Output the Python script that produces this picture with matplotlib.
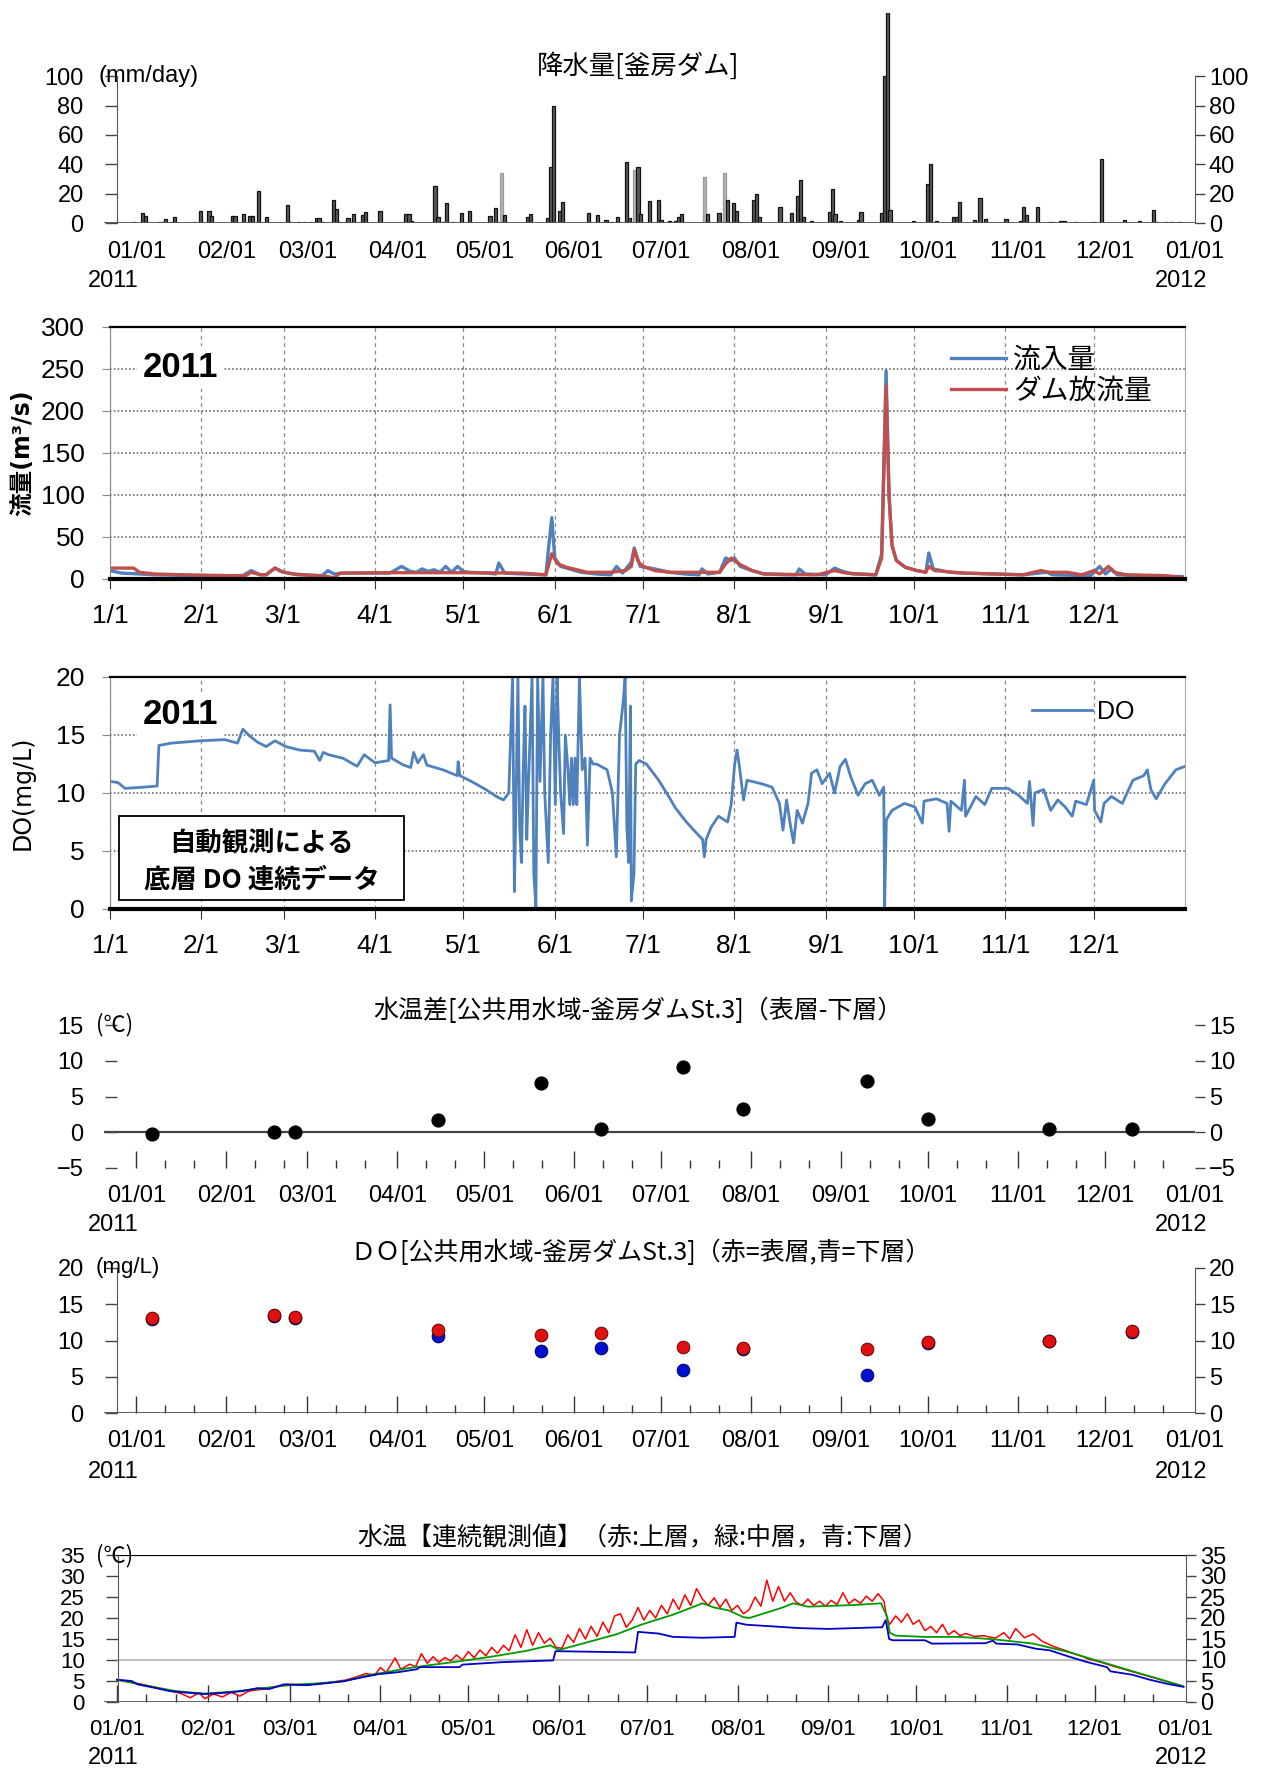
import numpy as np
import pandas as pd
import matplotlib
matplotlib.use('Agg')
import matplotlib.pyplot as plt
import matplotlib.dates as mdates
from matplotlib.ticker import FuncFormatter, FixedLocator
from matplotlib.patches import Rectangle

plt.rcParams['font.family'] = ['Liberation Sans', 'Noto Sans CJK JP']
JP = ['Noto Sans CJK JP', 'DejaVu Sans']
NARROW = ['Liberation Sans Narrow', 'Liberation Sans']

W, H = 1262, 1772
BASE = pd.Timestamp('2011-01-01')

# --- rainfall (day offset from 2011-01-01, mm/day, gray = missing/estimated)
rain_day = [-1, 2, 3, 8, 9, 10, 12, 13, 20, 22, 25, 26, 33, 34, 37, 39, 40, 42, 45,
            52, 53, 56, 58, 60, 62, 63, 64, 68, 69, 70, 72, 73, 75, 78, 79, 84,
            93, 94, 95, 103, 104, 106, 107, 109, 112, 115, 122, 124, 126, 127,
            135, 136, 142, 143, 144, 146, 147, 156, 159, 162, 164, 166, 169, 170,
            172, 173, 174, 177, 180, 181, 184, 186, 187, 188, 196, 197, 201, 203,
            204, 206, 207, 208, 213, 214, 215, 222, 224, 226, 228, 229, 230, 233,
            239, 240, 241, 243, 249, 250, 257, 258, 259, 260, 268, 273, 274, 276,
            282, 283, 284, 289, 291, 293, 300, 305, 306, 307, 311, 315, 316, 319,
            320, 324, 330, 333, 341, 346, 351, 352, 355, 357, 360]
rain_mm = [1, 7, 4.5, 0.7, 1, 3, 1, 4, 0.7, 8, 8, 5, 4.5, 4.5, 6, 4.5, 4.5, 22, 4,
           12, 1, 0.7, 0.7, 1, 3.5, 3.5, 0.7, 16, 9.5, 1, 1, 3.5, 6, 5.5, 7.5, 8,
           6, 6, 1.5, 25, 4, 1, 13.5, 1, 7, 8, 4.5, 10, 34, 5.5,
           4, 6, 3.5, 38, 80, 8, 14, 7, 5.5, 2, 1, 4, 41.5, 3.5,
           36, 38, 6, 15, 16, 2, 1.5, 1.5, 4, 6, 31, 6, 7, 34,
           16, 13.5, 8, 1, 16, 20, 4, 11, 1, 7, 18.5, 29, 4, 1.5,
           7.5, 23, 6, 1.5, 2, 7.5, 7, 100, 145, 9, 1.5, 26.5, 40.5, 1.5,
           4, 4, 14, 2, 16.8, 3, 3, 1.5, 11, 5.5, 11, 1, 1, 1.5,
           1.5, 1, 1, 43.5, 2, 1.5, 9, 1, 1, 1, 1]
rain_gray_days = [126, 172, 196, 203]

# --- dam inflow / outflow (m3/s)
in_day = [0, 4, 10, 15, 31, 45, 48, 51, 53, 56, 59, 64, 72, 74, 76, 80, 95, 99, 102,
          104, 106, 108, 110, 112, 114, 116, 118, 120, 122, 128, 131, 132, 134, 140,
          148, 149, 150, 151, 153, 160, 165, 170, 172, 174, 177, 178, 179, 180, 185,
          190, 195, 200, 201, 203, 207, 209, 211, 212, 214, 218, 222, 230, 233, 234,
          236, 243, 246, 248, 252, 260, 262, 263.5, 264.5, 265.5, 267, 270, 274, 277,
          278, 279.5, 285, 290, 300, 310, 318, 320, 333, 336, 338, 340, 342, 350,
          358, 364]
in_q = [10, 7, 6, 5, 4, 4, 10, 5, 5, 13, 8, 5, 4, 10, 6, 7, 7, 15, 9,
        8, 12, 9, 11, 8, 15, 8, 15, 9, 8, 7, 6, 19, 7, 6,
        5, 40, 73, 25, 15, 8, 6, 5, 15, 7, 20, 37, 25, 15, 12,
        8, 6, 5, 12, 6, 8, 25, 22, 25, 15, 10, 6, 5, 5, 12,
        6, 5, 13, 10, 6, 5, 30, 248, 100, 40, 22, 14, 10, 8,
        31, 12, 8, 7, 6, 5, 8, 5, 4, 15, 6, 12, 5, 4,
        3, 3]
out_day = [0, 8, 10, 15, 25, 40, 46, 48, 51, 53, 56, 58, 62, 70, 74, 76, 78, 90, 120,
           140, 148, 150, 152, 155, 162, 170, 175, 177, 178, 179.5, 181, 185, 190,
           207, 209, 211, 214, 218, 222, 240, 246, 250, 260, 262, 263.5, 264.5, 265.5,
           267, 270, 274, 277, 278, 280, 290, 310, 316, 319, 325, 330, 334, 336, 339,
           341, 345, 358, 364]
out_q = [13, 13, 8, 6, 5, 4, 4, 8, 5, 5, 13, 9, 6, 4, 3, 1, 7, 7.5, 7.5,
         7, 5, 30, 18, 14, 8, 8, 10, 15, 35, 20, 15, 10, 8,
         8, 18, 25, 17, 10, 6, 5, 10, 7, 5, 25, 230, 100, 40,
         22, 14, 10, 8, 15, 10, 7, 5, 10, 8, 8, 5, 10, 6, 15,
         8, 5, 4, 2]

# --- continuous bottom DO (mg/L)
do_day = [0, 2.7, 5.1, 11.2, 16, 16.6, 20.9, 30.6, 39, 43.3, 45.1, 47.5, 50, 53, 56,
          59.7, 64.5, 69.4, 71.2, 72.4, 74.2, 79.1, 83.9, 86.3, 90, 94.6, 95.1, 95.6,
          99.7, 102.1, 103.1, 104.5, 106.4, 107.6, 113, 117.9, 118.2, 118.8, 122.7,
          127.6, 131.2, 133.6, 135.4,
          136.7, 137.3, 137.9, 138.5, 139.1, 139.7, 140.3, 140.9, 141.5, 142.1, 143.3,
          143.9, 144.6, 145.2, 146, 147, 147.6, 148.8, 149.6, 150.4, 151.2, 151.8,
          152.4, 153, 154, 154.6, 155.5, 156.1, 156.7, 157.3, 157.9, 158.5, 159.4,
          160.3, 161.3, 162.1, 163, 164, 165.2, 168.8, 170.6, 171.2, 171.9, 173,
          174.3, 174.9, 175.5, 176.1, 176.7, 177, 177.9, 178.5, 179.7, 182.1,
          186.3, 189.7, 192, 195.7, 199.3, 201.2, 201.8, 202.4, 204.2, 206.6, 209.7,
          210.9, 212.1, 212.9, 213.7, 215.1, 216.3, 221.2, 224.8, 227.3, 228.5, 229.7,
          230.9, 232.1, 233.3, 235.1, 237, 238.2, 240, 241.8, 244.3, 246, 247.9,
          249.7, 251.5, 254, 256.4, 258.8, 261.2, 262.7, 263, 263.6, 265.5, 269.7,
          273.3, 275.8, 276.4, 280.6, 284.2, 284.9, 285.5, 289.1, 290.1, 290.5, 294,
          297, 299.4, 304.9, 308.5, 311.5, 312.2, 313.4, 314, 317, 319.4, 321.8,
          324.3, 326.7, 327.9, 331.5, 334, 334.3, 336.4, 337.5, 340, 343.7, 347.3,
          351, 352.2, 353.4, 355.2, 358.2, 361.9, 365]
do_val = [11.0, 10.9, 10.4, 10.5, 10.6, 14.1, 14.3, 14.5, 14.6, 14.3, 15.5, 14.9, 14.4, 14.0, 14.5,
          14.0, 13.7, 13.6, 12.8, 13.5, 13.3, 13.0, 12.3, 13.3, 12.6, 12.8, 17.6, 13.0,
          12.4, 12.2, 13.5, 12.6, 13.3, 12.4, 12.0, 11.5, 12.7, 11.5, 11.0,
          10.3, 9.7, 9.4, 10.0,
          20, 1.5, 10, 20, 7, 4, 12, 17.5, 6, 11, 20,
          3, 0.2, 20, 11, 20, 10, 4, 15, 20, 9, 20,
          14.5, 10, 6.5, 15, 12, 9, 13, 9, 13, 9, 20,
          12, 13, 5.5, 13, 12.5, 12.5, 12, 10, 7.5, 4.5, 15,
          18, 20, 7, 4, 17.5, 0.7, 3, 12.5, 12.8, 12.5,
          11.1, 9.7, 8.7, 7.5, 6.5, 6.0, 4.5, 6.0, 7.1, 8.0, 7.5,
          9.0, 12.5, 13.7, 12.3, 9.4, 11.1, 10.8, 10.5, 9.1, 6.8, 9.4,
          7.4, 5.7, 8.5, 7.4, 9.1, 11.7, 12.0, 10.8, 11.7, 10.0, 12.3,
          12.9, 11.4, 9.8, 10.8, 11.1, 9.8, 10.5, 0.2, 7.7, 8.5, 9.1,
          8.8, 7.4, 9.3, 9.5, 9.1, 6.7, 9.3, 8.5, 11.1, 8.0, 9.7,
          9.0, 10.4, 10.4, 9.8, 9.1, 11.0, 7.2, 10.0, 10.3, 8.5, 9.4,
          8.8, 8.0, 9.3, 9.0, 11.1, 8.5, 7.5, 9.1, 9.7, 9.1, 11.1,
          11.5, 12.0, 10.3, 9.5, 10.8, 12.0, 12.3]

# --- public-water survey at St.3
survey_day = [5.5, 47.6, 54.7, 104, 139.5, 160.4, 188.5, 209.4, 252, 273, 315, 343.3]
temp_diff = [-0.2, 0.0, 0.0, 1.7, 6.9, 0.4, 9.1, 3.2, 7.2, 1.8, 0.5, 0.5]
do_surface = [13.1, 13.5, 13.2, 11.5, 10.8, 11.0, 9.1, 8.9, 8.8, 9.8, 10.0, 11.3]
do_bottom = [12.9, 13.4, 13.1, 10.6, 8.6, 9.0, 6.0, 8.8, 5.2, 9.6, 9.9, 11.2]

# --- continuous water temperature (deg C)
wt_up_day = [0, 8, 15, 22, 25, 28, 30, 33, 36, 39, 42, 45, 48, 52, 58, 65, 72, 78, 82, 85,
             88, 90, 92, 95, 97, 100, 102, 104, 106, 108, 110, 112, 114, 116, 118, 120,
             122, 124, 126, 128, 130, 132, 134, 136, 138, 140, 142, 144, 146, 148, 150,
             152, 154, 156, 158, 160, 162, 164, 166, 168, 170, 172, 174, 176, 178, 180,
             182, 184, 186, 188, 190, 192, 194, 196, 198, 200, 202, 204, 206, 208, 210,
             212, 214, 216, 218, 220, 222, 224, 226, 228, 230, 232, 234, 236, 238, 240,
             242, 244, 246, 248, 250, 252, 254, 256, 258, 260, 262, 263, 264, 266, 268,
             270, 272, 274, 276, 278, 280, 282, 284, 286, 288, 290, 293, 296, 300, 303,
             305, 307, 310, 313, 316, 320, 325, 330, 332, 336, 340, 345, 350, 355, 360, 364]
wt_up = [5.3, 4.3, 3.2, 2.0, 1.0, 2.2, 0.8, 1.9, 1.2, 2.3, 1.4, 2.6, 2.9, 3.2, 4.2, 4.1, 4.6, 5.2, 6.0, 6.8,
         6.4, 8.2, 7.0, 10.5, 7.8, 9.0, 8.4, 11.5, 9.2, 10.8, 9.4, 10.6, 9.8, 11.2, 10.0, 12.0,
         10.5, 12.4, 11.0, 13.0, 11.6, 13.5, 12.2, 16.0, 13.0, 17.2, 13.5, 16.5, 14.0, 15.2, 13.0,
         12.8, 16.0, 14.2, 17.5, 15.0, 18.0, 15.6, 19.0, 16.5, 20.5, 21.0, 17.8, 19.5, 22.5, 19.5,
         21.8, 20.0, 23.0, 21.0, 24.5, 22.0, 25.5, 23.0, 27.0, 24.5, 23.0, 24.8, 22.5, 24.5, 21.8,
         23.0, 21.0, 22.0, 25.0, 22.8, 29.0, 24.0, 27.5, 24.0, 26.0, 23.8, 23.0, 24.5, 23.0, 24.0,
         22.8, 24.2, 23.2, 26.0, 23.4, 24.5, 23.5, 25.2, 24.0, 25.8, 24.0, 20.0, 18.5, 20.5, 19.0,
         21.0, 18.5, 19.5, 17.0, 18.0, 16.5, 18.5, 16.0, 17.0, 15.8, 16.3, 15.6, 15.8, 15.2, 16.5,
         15.0, 17.5, 15.3, 16.2, 14.5, 13.2, 12.0, 10.8, 10.2, 9.5, 8.6, 7.6, 6.6, 5.6, 4.6, 3.8]
wt_mid_day = [0, 10, 20, 30, 40, 50, 60, 70, 78, 85, 92, 99, 106, 116, 128, 140, 148, 151,
              159, 171, 179, 190, 200, 204, 209, 214, 216, 227, 231, 236, 252, 261, 263,
              264, 266, 276, 288, 300, 313, 325, 337, 349, 355, 364]
wt_mid = [5.3, 3.9, 2.6, 2.0, 2.5, 3.3, 4.1, 4.5, 5.0, 6.3, 7.1, 8.0, 8.7, 9.6, 10.8, 12.2, 13.5, 12.4,
          13.9, 16.2, 18.4, 20.8, 23.5, 22.5, 21.8, 20.2, 20.0, 22.4, 23.5, 22.7, 23.1, 23.5, 20.5,
          16.5, 15.8, 15.5, 15.5, 14.9, 13.9, 11.9, 9.4, 6.9, 5.7, 3.8]
wt_low_day = [0, 5, 7, 12, 18, 24, 30, 37, 43, 48, 52, 57, 65, 72, 77, 84, 89, 96, 102.5,
              103.5, 117, 118, 132, 149, 149.8, 177, 178, 185, 190, 200, 211, 211.6, 215,
              233, 243, 261.4, 262.6, 263.8, 265, 276, 278.4, 296.7, 299.2, 300.4, 307.7,
              313.8, 318.7, 324.8, 330.9, 338.2, 339.4, 346.8, 352.8, 359, 364.4]
wt_low = [5.3, 5.0, 4.2, 3.5, 2.6, 2.2, 1.9, 2.2, 2.6, 3.3, 3.1, 4.2, 4.0, 4.5, 4.9, 5.9, 6.6, 7.1, 7.8,
          8.3, 8.3, 8.9, 9.5, 9.9, 12.1, 11.8, 16.7, 16.3, 15.5, 15.3, 15.5, 18.9, 18.4,
          17.6, 17.4, 17.8, 19.5, 15.0, 14.7, 14.7, 13.9, 14.0, 14.6, 13.9, 13.7,
          12.7, 12.3, 10.9, 9.6, 8.3, 7.3, 6.5, 5.3, 4.3, 3.6]


def days(d):
    return BASE + pd.to_timedelta(np.asarray(d, dtype=float), unit='D')


def px_ax(l, t, r, b):
    return fig.add_axes([l / W, 1 - b / H, (r - l) / W, (b - t) / H])


def ftext(x, y, s, **kw):
    return fig.text(x / W, 1 - y / H, s, **kw)


def year_labels(y):
    ftext(113, y, '2011', ha='center', va='center', fontsize=17)
    ftext(1181, y, '2012', ha='center', va='center', fontsize=17)


# minor ticks on the 11th and 21st of each month of 2011 only
minor_dates = pd.date_range('2011-01-01', '2011-12-31', freq='D')
minor_dates = minor_dates[np.isin(minor_dates.day, [11, 21])]
month_dates = pd.date_range('2011-01-01', '2012-01-01', freq='MS')


def survey_style(ax, ymin, ymax, ystep, lpx, rpx, spine_px, show_spines, left_ext=11.2):
    # R-style panels: mm/dd labels, spine offset, right-hand copy of the scale
    ax.set_xlim(BASE - pd.Timedelta(days=left_ext), BASE + pd.Timedelta(days=365.2))
    ax.set_ylim(ymin, ymax)
    ticks = np.arange(ymin, ymax + 0.1, ystep)
    ax.set_yticks(ticks)
    ax.spines['top'].set_visible(False)
    ax.spines['bottom'].set_visible(False)
    ax.spines['left'].set_position(('axes', (spine_px - lpx) / (rpx - lpx)))
    ax.spines['left'].set_bounds(ymin, ymax)
    ax.spines['left'].set_color('#555555')
    ax.spines['left'].set_visible(show_spines)
    ax.spines['right'].set_visible(False)
    ax.tick_params(axis='y', direction='out', length=9, width=1, color='#444444',
                   labelsize=17, pad=15)
    sec = ax.secondary_yaxis('right')
    sec.set_yticks(ticks)
    sec.tick_params(axis='y', direction='out', length=7, width=1, color='#444444',
                    labelsize=17, pad=3)
    sec.spines['right'].set_bounds(ymin, ymax)
    sec.spines['right'].set_color('#555555')
    sec.spines['right'].set_visible(show_spines)
    ax.xaxis.set_major_locator(FixedLocator(mdates.date2num(month_dates)))
    ax.xaxis.set_minor_locator(FixedLocator(mdates.date2num(minor_dates)))
    ax.xaxis.set_major_formatter(mdates.DateFormatter('%m/%d'))
    ax.tick_params(axis='x', which='major', direction='in', length=12, width=1,
                   color='#333333', labelsize=17, pad=12)
    ax.tick_params(axis='x', which='minor', direction='in', length=6, width=1,
                   color='#333333')
    # no tick mark under the closing 01/01 label
    ax.xaxis.get_major_ticks()[-1].tick1line.set_visible(False)
    return sec


def excel_style(ax, ymax, ystep):
    ax.set_xlim(BASE, BASE + pd.Timedelta(days=364.99))
    ax.set_ylim(0, ymax)
    ax.set_yticks(np.arange(0, ymax + 0.1, ystep))
    ax.xaxis.set_major_locator(mdates.MonthLocator())
    ax.xaxis.set_major_formatter(FuncFormatter(lambda v, p: f'{mdates.num2date(v).month}/1'))
    ax.grid(axis='x', color='#888888', linestyle=(0, (3, 3)), linewidth=0.9)
    ax.grid(axis='y', color='#555555', linestyle=(0, (1, 1.5)), linewidth=1.1)
    ax.spines['top'].set_color('black')
    ax.spines['top'].set_linewidth(1.6)
    ax.spines['bottom'].set_color('black')
    ax.spines['bottom'].set_linewidth(3)
    ax.spines['left'].set_color('#888888')
    ax.spines['right'].set_color('#aaaaaa')
    ax.tick_params(axis='y', length=6, color='#888888', labelsize=19, pad=12)
    ax.tick_params(axis='x', length=7, color='#333333', labelsize=19, pad=11)
    for lab in ax.get_xticklabels() + ax.get_yticklabels():
        lab.set_family(NARROW)
    ax.text(0.03, 0.84, '2011', transform=ax.transAxes, fontsize=25, fontweight='bold',
            va='center', ha='left',
            bbox=dict(boxstyle='square,pad=0.15', fc='white', ec='none'))


fig = plt.figure(figsize=(W / 100, H / 100), dpi=100)

# ---------------- panel 1: rainfall
ax1 = px_ax(104, 13, 1195, 223)
is_gray = np.isin(rain_day, rain_gray_days)
ax1.bar(days(rain_day), rain_mm, width=1.1, align='center',
        color=np.where(is_gray, '#b5b5b5', '#5a5a5a'),
        edgecolor=np.where(is_gray, '#9a9a9a', '#111111'), linewidth=0.9)
survey_style(ax1, 0, 100, 20, 104, 1195, 117, True)
ax1.set_ylim(0, 143)
ax1.axhline(0, color='#555555', linewidth=1.3)
ax1.tick_params(axis='x', which='both', length=0, pad=13)
ftext(638, 66, '降水量[釜房ダム]', ha='center', va='center', fontsize=19, family=JP)
ftext(98, 76, '(mm/day)', ha='left', va='center', fontsize=17)
year_labels(281)

# ---------------- panel 2: inflow / outflow
ax2 = px_ax(110, 327, 1185, 579)
ax2.plot(days(in_day), in_q, color='#4f81bd', linewidth=2.4, label='流入量')
ax2.plot(days(out_day), out_q, color='#c0504d', linewidth=2.4, label='ダム放流量')
excel_style(ax2, 300, 50)
ax2.set_ylabel('流量(m³/s)', fontsize=17, family=['DejaVu Sans', 'Noto Sans CJK JP'],
               fontweight='bold')
ax2.yaxis.set_label_coords(-0.07, 0.5)
ax2.legend(loc='upper left', bbox_to_anchor=(0.782, 0.93), frameon=False,
           prop={'family': JP, 'size': 20}, handlelength=2.0,
           handletextpad=0.25, labelspacing=0.05, borderaxespad=0, borderpad=0)

# ---------------- panel 3: continuous DO
ax3 = px_ax(110, 677, 1185, 909)
ax3.plot(days(do_day), do_val, color='#4f81bd', linewidth=2.0, label='DO')
excel_style(ax3, 20, 5)
ax3.set_ylabel('DO(mg/L)', fontsize=17, family='DejaVu Sans')
ax3.yaxis.set_label_coords(-0.07, 0.5)
ax3.legend(loc='upper left', bbox_to_anchor=(0.858, 0.9), frameon=False,
           prop={'family': ['Liberation Sans'], 'size': 18}, handlelength=2.4,
           handletextpad=0.2, borderaxespad=0, borderpad=0)
ax3.add_patch(Rectangle((0.0084, 0.039), 0.265, 0.362, transform=ax3.transAxes,
                        facecolor='white', edgecolor='black', linewidth=1.3, zorder=5))
ax3.text(0.141, 0.28, '自動観測による', transform=ax3.transAxes, ha='center', va='center',
         fontsize=19, fontweight='bold', family=JP, zorder=6)
ax3.text(0.141, 0.125, '底層 DO 連続データ', transform=ax3.transAxes, ha='center',
         va='center', fontsize=19, fontweight='bold', family=JP, zorder=6)

# ---------------- panel 4: surface - bottom temperature difference
ax4 = px_ax(104, 1025, 1195, 1168)
sec4 = survey_style(ax4, -5, 15, 5, 104, 1195, 117, False)
for yax in (ax4.yaxis, sec4.yaxis):
    for t in yax.get_major_ticks():
        if t.get_loc() < -4:
            t.tick1line.set_visible(False)
            t.tick2line.set_visible(False)
ax4.axhline(0, color='#444444', linewidth=1.6, zorder=1)
ax4.scatter(days(survey_day), temp_diff, s=85, color='black', zorder=3)
ftext(638, 1011, '水温差[公共用水域-釜房ダムSt.3]（表層-下層）', ha='center', va='center',
      fontsize=18, family=JP)
ftext(96, 1025, '(℃)', ha='left', va='center', fontsize=16, family=JP)
year_labels(1225)

# ---------------- panel 5: DO at St.3
ax5 = px_ax(104, 1268, 1195, 1413)
survey_style(ax5, 0, 20, 5, 104, 1195, 117, True)
ax5.axhline(0, color='#555555', linewidth=1.3)
ax5.scatter(days(survey_day), do_bottom, s=85, color='#0010d0', edgecolor='#000050',
            linewidth=0.6, zorder=3)
ax5.scatter(days(survey_day), do_surface, s=85, color='#e01010', edgecolor='#500000',
            linewidth=0.6, zorder=4)
ftext(641, 1253, 'ＤＯ[公共用水域-釜房ダムSt.3]（赤=表層,青=下層）', ha='center',
      va='center', fontsize=18, family=JP)
ftext(96, 1268, '(mg/L)', ha='left', va='center', fontsize=16)
year_labels(1472)

# ---------------- panel 6: continuous water temperature
ax6 = px_ax(104, 1555, 1186, 1702)
survey_style(ax6, 0, 35, 5, 104, 1186, 118, True, left_ext=13 / 2.927)
ax6.tick_params(axis='y', labelsize=16)
ax6.axhline(0, color='#555555', linewidth=1.3)
ax6.axhline(10, color='#bbbbbb', linewidth=1.3, xmin=14 / 1082)
ax6.axhline(35, color='black', linewidth=1.6, xmin=14 / 1082)
ax6.plot(days(wt_up_day), wt_up, color='#ff0000', linewidth=1.1)
ax6.plot(days(wt_mid_day), wt_mid, color='#009a00', linewidth=1.3)
ax6.plot(days(wt_low_day), wt_low, color='#0000c8', linewidth=1.3)
ax6.tick_params(axis='x', which='both', labelsize=16)
ftext(643, 1538, '水温【連続観測値】（赤:上層，緑:中層，青:下層）', ha='center',
      va='center', fontsize=18, family=JP)
ftext(96, 1556, '(℃)', ha='left', va='center', fontsize=16, family=JP)
year_labels(1758)

fig.savefig('out.png', dpi=100)
